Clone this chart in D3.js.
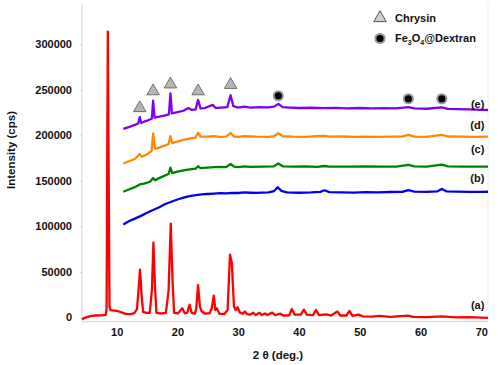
<!DOCTYPE html>
<html><head><meta charset="utf-8">
<script src="https://cdn.jsdelivr.net/npm/d3@7"></script>
<style>body{margin:0;background:#fff}svg{display:block;font-family:Arial,"Liberation Sans",sans-serif}</style>
</head><body>
<script>
// ---- data (2θ in deg., intensity in cps) ----
const xTicks = [10, 20, 30, 40, 50, 60, 70];
const yTicks = [0, 50000, 100000, 150000, 200000, 250000, 300000];
const seriesNames = ["(a)", "(b)", "(c)", "(d)", "(e)"];
const seriesColors = ["#ff0000", "#0000ee", "#008000", "#ff8800", "#8000f0"];

const seriesA = [[4.3,-2000],[5,0],[5.8,1500],[6.5,2000],[7.5,2200],[8.2,2800],[8.35,10000],[8.47,200000],[8.55,314000],[8.65,200000],[8.82,12000],[9.0,8000],[10,7200],[10.8,5500],[11.5,3800],[12.3,3500],[12.9,4500],[13.35,9000],[13.6,30000],[13.85,52500],[14.1,25000],[14.35,6000],[14.9,5000],[15.45,5000],[15.8,30000],[16.05,82000],[16.3,35000],[16.55,5000],[17.3,4200],[18.1,4800],[18.55,30000],[18.9,103000],[19.2,40000],[19.45,5000],[20.1,4500],[20.8,9900],[21.2,4500],[21.6,5000],[22.0,13800],[22.35,5000],[22.9,4200],[23.1,10000],[23.4,35500],[23.7,12000],[23.95,7000],[24.5,4200],[25.3,4500],[25.65,10000],[25.98,23800],[26.25,8000],[26.5,9900],[26.9,4000],[27.7,3500],[28.25,8000],[28.65,69000],[28.95,60000],[29.3,12000],[29.6,8000],[29.9,11000],[30.3,5000],[30.8,4000],[31.1,6500],[31.5,3500],[32.0,3000],[32.5,5000],[32.9,2500],[33.5,5000],[33.9,2500],[34.4,4200],[34.8,2500],[35.6,5200],[36.1,2500],[36.9,4000],[37.4,2000],[38.4,2200],[38.8,9000],[39.3,3000],[40.3,3000],[40.8,8500],[41.3,3000],[42.3,2500],[42.8,8000],[43.3,2500],[44.5,3200],[45.3,2000],[46.3,6500],[46.8,2000],[47.8,2000],[48.3,7000],[48.8,1500],[49.8,3000],[50.5,1000],[52,800],[53.2,1500],[55,500],[57.9,1800],[58.8,500],[61,300],[63.5,1000],[66,0],[68,200],[71.1,-500]];

const seriesB = [[11.1,102000],[12,105500],[13,108500],[14,111500],[15,115000],[16,118000],[17,121000],[18,124500],[19,127000],[20,129500],[21,131500],[22,133300],[23,134300],[24,135000],[25,135500],[26,136000],[27,136500],[28,136300],[29,136800],[30,136600],[31,137200],[32,136900],[33,136700],[34,137100],[35,137300],[35.9,138800],[36.5,143000],[37.1,139000],[38,137300],[40,136900],[42,137200],[43.5,137800],[44.2,139600],[45,137600],[47,137300],[49,137100],[51,137600],[53,137300],[55,137700],[57,137900],[58,139800],[59,138100],[61,137900],[62.8,138500],[63.5,141000],[64.3,138400],[66,138200],[68,137900],[70,137800],[71.1,138000]];

const seriesC = [[11.1,138000],[12,140500],[13,143000],[13.8,146000],[14.5,147000],[15.5,149000],[16.0,153000],[16.3,150500],[17,153000],[18,156000],[18.55,157500],[18.85,164500],[19.15,158500],[20,160000],[21,161500],[22,162500],[23,163500],[23.4,166000],[23.8,164000],[25,164500],[26,165000],[27,165300],[28,165000],[28.75,168500],[29.3,165500],[30,165000],[31,165800],[32,165300],[34,165500],[35.8,165800],[36.6,169000],[37.4,165800],[39,165500],[41,165800],[43,165400],[44.2,166300],[45,165600],[48,165500],[51,165800],[54,165500],[56,165700],[58,167500],[59,165800],[61,165500],[63.5,167800],[64.5,165800],[67,165600],[69,165700],[71.1,165600]];

const seriesD = [[11.1,169000],[12,171500],[13,174000],[13.8,179500],[14.1,176500],[15,179000],[15.75,183000],[16.0,202000],[16.3,185000],[17,186500],[18,189000],[18.55,190500],[18.85,199000],[19.15,191500],[20,193000],[21,195000],[22,196500],[23,197500],[23.4,203000],[23.8,198500],[25,198500],[26,199000],[27,198300],[28,198500],[28.75,202500],[29.3,198800],[30,198300],[31,199000],[33,198500],[35,198300],[35.9,199000],[36.6,202500],[37.3,199000],[39,198500],[41,198300],[43,199200],[44.2,199300],[45,198500],[47,198700],[49,198300],[51,198600],[53,198400],[55,198600],[57,198500],[58,200500],[59,198600],[61,198400],[63.5,200500],[64.5,198700],[67,198500],[69,198400],[71.1,198600]];

const seriesE = [[11.1,207000],[12,209000],[13,211500],[13.55,213000],[13.8,220000],[14.05,213500],[14.5,215000],[15.2,216500],[15.8,218500],[16.0,238000],[16.25,219500],[17,220500],[18,222000],[18.6,223000],[18.85,246000],[19.1,224000],[20,225500],[21,227000],[21.8,230000],[22.3,228000],[23,228500],[23.4,239000],[23.8,229500],[24.5,230000],[25.8,233500],[26.3,230000],[27.2,230500],[28.2,231000],[28.75,244000],[29.2,232000],[30,230500],[31,231500],[32,230500],[33.5,231000],[35,230800],[35.9,231500],[36.6,234500],[37.3,231000],[38.5,230500],[40,230000],[42,230300],[44,229800],[46,230200],[48,229700],[50,230000],[52,229600],[54,229800],[56,229500],[58,231000],[59,229500],[61,229200],[63.5,230800],[64.5,229000],[66,228700],[68,228400],[70,228000],[71.1,227800]];

const seriesData = [seriesA, seriesB, seriesC, seriesD, seriesE];
// label anchor values (2θ, cps) for (a)..(e)
const labelX = [70.5, 70.5, 70.5, 70.5, 70.5];
const labelY = [9000, 149000, 181000, 207000, 230500];

// phase markers (2θ, cps)
const chrysinMarks = [[13.8,230000],[16.0,248500],[18.85,256000],[23.4,248500],[28.75,255500]];
const fe3o4Marks = [[36.6,243500],[58,240200],[63.5,240200]];

// ---- drawing ----
const W = 498, H = 365;
const L = 82, R = 488, T = 4, B = 321.7;
const svg = d3.select("body").append("svg").attr("width", W).attr("height", H);
const x = d3.scaleLinear().domain([4.3, 71.1]).range([L, R]);
const y = d3.scaleLinear().domain([-4800, 344300]).range([B, T]);

// frame
svg.append("line").attr("x1", R).attr("x2", R).attr("y1", T).attr("y2", B).attr("stroke", "#ececec").attr("stroke-width", 1);

const yAxis = svg.append("g").attr("transform", `translate(${L},0)`)
  .call(d3.axisLeft(y).tickValues(yTicks).tickSize(2).tickPadding(8).tickFormat(d3.format("d")));
yAxis.select(".domain").attr("stroke", "#d4d4d4").attr("d", `M0,${T}V${B}`);
yAxis.selectAll(".tick line").attr("stroke", "#d4d4d4");
yAxis.selectAll(".tick text").attr("font-size", 11).attr("font-weight", "bold").attr("fill", "#111").attr("font-family", "Arial, 'Liberation Sans', sans-serif");

const xAxis = svg.append("g").attr("transform", `translate(0,${B})`)
  .call(d3.axisBottom(x).tickValues(xTicks).tickSize(0).tickPadding(7));
xAxis.select(".domain").attr("stroke", "#d4d4d4").attr("d", `M${L},0H${R}`);
xAxis.selectAll(".tick text").attr("font-size", 11).attr("font-weight", "bold").attr("fill", "#111").attr("font-family", "Arial, 'Liberation Sans', sans-serif");

// titles
svg.append("text").attr("transform", `translate(15,150) rotate(-90)`).attr("text-anchor", "middle")
  .attr("font-size", 11.5).attr("font-weight", "bold").attr("fill", "#111").text("Intensity (cps)");
svg.append("text").attr("x", 278).attr("y", 359).attr("text-anchor", "middle")
  .attr("font-size", 11.5).attr("font-weight", "bold").attr("fill", "#111").text("2 θ (deg.)");

// lines
const line = d3.line().x(d => x(d[0])).y(d => y(d[1]));
seriesData.forEach((s, i) => {
  svg.append("path").datum(s).attr("d", line).attr("fill", "none")
    .attr("stroke", seriesColors[i]).attr("stroke-width", 2.3).attr("stroke-linejoin", "round");
});

// series labels
seriesNames.forEach((n, i) => {
  svg.append("text").attr("x", x(labelX[i])).attr("y", y(labelY[i])).attr("text-anchor", "end")
    .attr("font-size", 11).attr("font-weight", "bold").attr("fill", "#111").text(n);
});

// markers
const tri = d3.symbol().type(d3.symbolTriangle).size(68);
svg.selectAll(".tri").data(chrysinMarks).join("path").attr("class", "tri")
  .attr("d", tri).attr("transform", d => `translate(${x(d[0])},${y(d[1])})`)
  .attr("fill", "#b5b5b5").attr("stroke", "#555").attr("stroke-width", 0.8);
svg.selectAll(".circ").data(fe3o4Marks).join("circle").attr("class", "circ")
  .attr("cx", d => x(d[0])).attr("cy", d => y(d[1])).attr("r", 4.6)
  .attr("fill", "#000").attr("stroke", "#999").attr("stroke-width", 2);

// legend
svg.append("path").attr("d", tri).attr("transform", "translate(380,18)")
  .attr("fill", "#cfcfcf").attr("stroke", "#444").attr("stroke-width", 0.9);
svg.append("text").attr("x", 395).attr("y", 21.5).attr("font-size", 11).attr("font-weight", "bold").attr("fill", "#111").text("Chrysin");
svg.append("circle").attr("cx", 380).attr("cy", 38.5).attr("r", 4.6).attr("fill", "#000").attr("stroke", "#999").attr("stroke-width", 2);
const lt = svg.append("text").attr("x", 395).attr("y", 42).attr("font-size", 11).attr("font-weight", "bold").attr("fill", "#111");
lt.append("tspan").text("Fe");
lt.append("tspan").attr("font-size", 7).attr("dy", 3).text("3");
lt.append("tspan").attr("dy", -3).text("O");
lt.append("tspan").attr("font-size", 7).attr("dy", 3).text("4");
lt.append("tspan").attr("dy", -3).text("@Dextran");
</script>
</body></html>
